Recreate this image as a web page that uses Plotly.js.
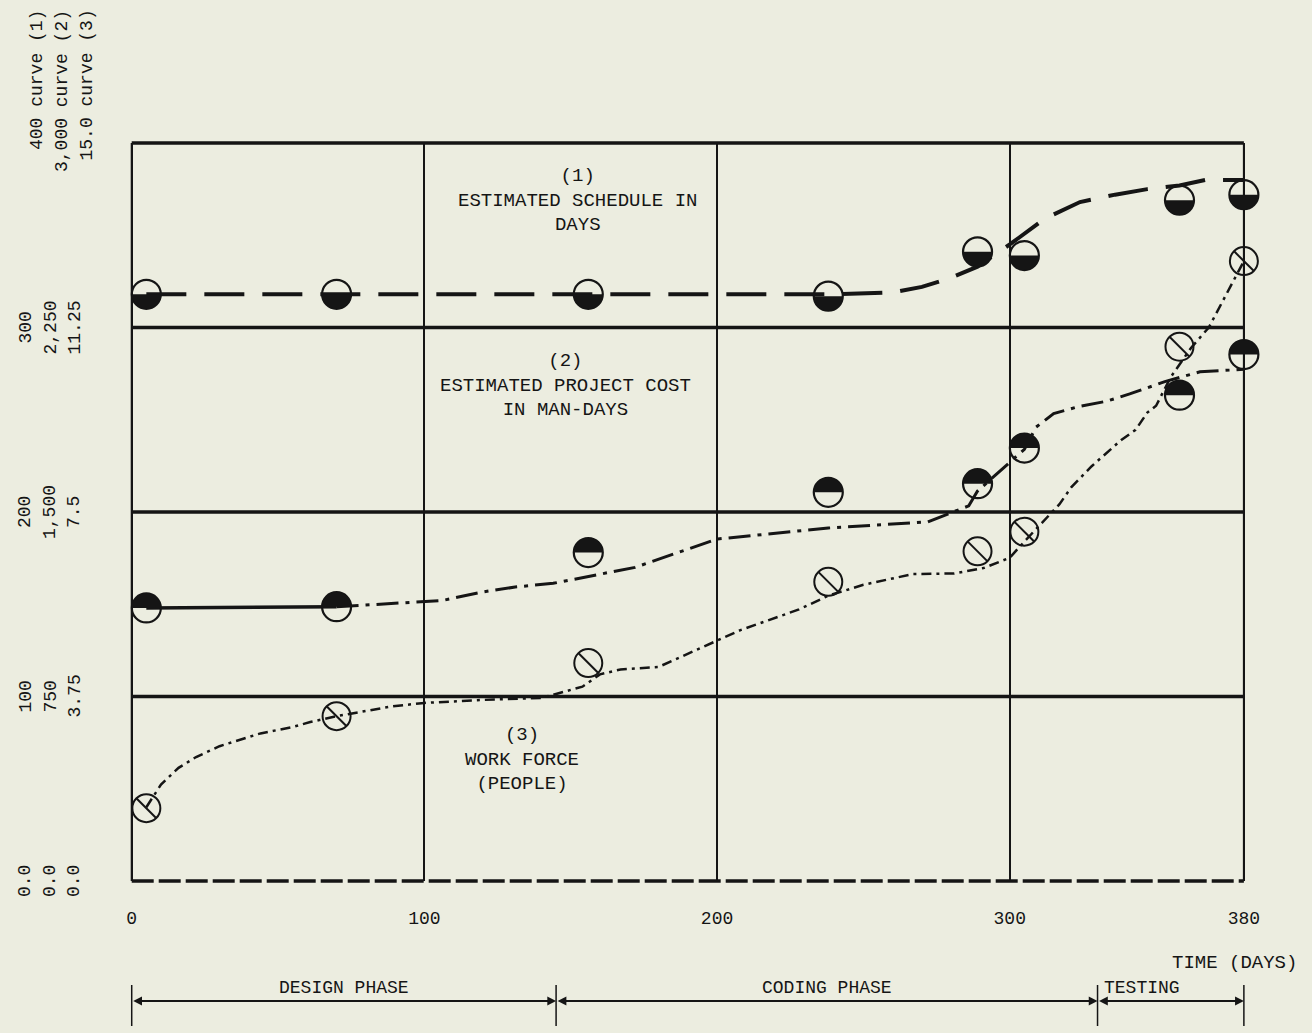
<!DOCTYPE html>
<html><head><meta charset="utf-8">
<script src="https://cdn.plot.ly/plotly-3.0.1.min.js"></script>
<style>html,body{margin:0;padding:0;background:#ECEDE0;}#chart{width:1312px;height:1033px;}</style>
</head><body><div id="chart"></div>
<script>
// ---- data ----
// review dates (days) shared by the three curves
const reviewDays = [5, 70, 156, 238, 289, 305, 358, 380];
// (1) estimated schedule in days
const scheduleEst = [318, 318, 318, 317, 341, 339, 369, 372];
// (2) estimated project cost in man-days
const costEst = [1110, 1115, 1335, 1580, 1615, 1760, 1975, 2140];
// (3) work force in people
const workForce = [1.48, 3.35, 4.43, 6.08, 6.7, 7.1, 10.86, 12.6];

// hand-drawn trend curves
const scheduleTrendDays = [5, 240, 260, 270, 280, 289, 300, 312, 324, 336, 347, 358, 367, 380];
const scheduleTrend     = [318, 318, 319, 322, 327, 333, 345, 359, 368, 372, 375, 377, 380, 380];

const costFlatDays = [5, 70];
const costFlat     = [1110, 1115];
const costTrendDays = [70, 106, 120, 131, 144, 157, 172, 200, 238, 272, 286, 289, 305, 309, 315, 324, 333, 341, 353, 365, 380];
const costTrend     = [1115, 1140, 1175, 1195, 1210, 1240, 1275, 1390, 1435, 1460, 1525, 1585, 1755, 1845, 1900, 1930, 1950, 1980, 2030, 2070, 2080];

const workTrendDays = [5, 10, 16, 22, 30, 36, 44, 55, 61, 70, 80, 89, 100, 120, 140, 148, 154, 160, 167, 180, 194, 208, 228, 238, 250, 267, 281, 291, 300, 305, 317, 321, 328, 333, 338, 343, 347, 350, 355, 362, 368, 376, 380];
const workTrend     = [1.5, 1.96, 2.3, 2.52, 2.74, 2.85, 3.0, 3.13, 3.23, 3.35, 3.46, 3.55, 3.62, 3.68, 3.72, 3.85, 3.95, 4.2, 4.3, 4.35, 4.73, 5.1, 5.52, 5.8, 6.02, 6.24, 6.25, 6.36, 6.57, 6.9, 7.66, 8.0, 8.43, 8.7, 8.96, 9.17, 9.52, 9.66, 10.24, 10.84, 11.25, 12.15, 12.6];

// axis scales and tick labels
const xTickVals = [0, 100, 200, 300, 380];
const xTickText = ['0', '100', '200', '300', '380'];
const gridVals1 = [100, 200, 300];
const tickVals1 = [0, 100, 200, 300];
const tickText1 = ['0.0', '100', '200', '300'];
const tickVals2 = [0, 750, 1500, 2250];
const tickText2 = ['0.0', '750', '1,500', '2,250'];
const tickVals3 = [0, 3.75, 7.5, 11.25];
const tickText3 = ['0.0', '3.75', '7.5', '11.25'];
const topLabels = ['400 curve (1)', '3,000 curve (2)', '15.0 curve (3)'];
const scaleMax = [400, 3000, 15];

// project phases
const phaseBounds = [0, 145, 330, 380];
const phaseNames = ['DESIGN PHASE', 'CODING PHASE', 'TESTING'];

// ---- styling ----
const ink = '#151515';
const bg = '#ECEDE0';
const mono = 'Liberation Mono, DejaVu Sans Mono, monospace';

const traces = [
  {x: scheduleTrendDays, y: scheduleTrend, yaxis: 'y', mode: 'lines',
   line: {color: ink, width: 4, dash: '40px,18px'}, hoverinfo: 'skip'},
  {x: costFlatDays, y: costFlat, yaxis: 'y2', mode: 'lines',
   line: {color: ink, width: 3.5}, hoverinfo: 'skip'},
  {x: costTrendDays, y: costTrend, yaxis: 'y2', mode: 'lines',
   line: {color: ink, width: 3, dash: '22px,7px,4px,7px'}, hoverinfo: 'skip'},
  {x: workTrendDays, y: workTrend, yaxis: 'y3', mode: 'lines',
   line: {color: ink, width: 2.5, dash: '10px,5px,3px,5px'}, hoverinfo: 'skip'},
  {x: reviewDays, y: scheduleEst, yaxis: 'y', mode: 'markers', cliponaxis: false,
   marker: {symbol: 'circle-open', size: 29, color: ink, line: {color: ink, width: 2.2}}},
  {x: reviewDays, y: costEst, yaxis: 'y2', mode: 'markers', cliponaxis: false,
   marker: {symbol: 'circle-open', size: 29, color: ink, line: {color: ink, width: 2.2}}},
  {x: reviewDays, y: workForce, yaxis: 'y3', mode: 'markers', cliponaxis: false,
   marker: {symbol: 'circle-open', size: 28, color: ink, line: {color: ink, width: 2}}},
  {x: reviewDays, y: workForce, yaxis: 'y3', mode: 'markers', cliponaxis: false,
   marker: {symbol: 'line-nw', size: 20, color: ink, line: {color: ink, width: 2}}}
];

// half-filled circle markers (filled half drawn as pixel-sized path anchored on the data point)
function halfDisc(x, y, yref, lower) {
  const r = 14.5, k = 8.0, s = lower ? -1 : 1;
  const path = 'M' + (-r) + ',0L' + r + ',0C' + r + ',' + (s * k) + ' ' + k + ',' + (s * r) + ' 0,' + (s * r) +
               'C' + (-k) + ',' + (s * r) + ' ' + (-r) + ',' + (s * k) + ' ' + (-r) + ',0Z';
  return {type: 'path', xref: 'x', yref: yref, xsizemode: 'pixel', ysizemode: 'pixel',
          xanchor: x, yanchor: y, path: path, fillcolor: ink, line: {width: 0}};
}

const shapes = [];
// frame
shapes.push({type: 'line', xref: 'x', yref: 'paper', x0: 0, x1: 380, y0: 1, y1: 1, line: {color: ink, width: 3.5}});
shapes.push({type: 'line', xref: 'x', yref: 'paper', x0: 0, x1: 380, y0: 0, y1: 0, line: {color: ink, width: 3.5, dash: '22px,5px'}});
shapes.push({type: 'line', xref: 'x', yref: 'paper', x0: 0, x1: 0, y0: 0, y1: 1, line: {color: ink, width: 2}});
shapes.push({type: 'line', xref: 'x', yref: 'paper', x0: 380, x1: 380, y0: 0, y1: 1, line: {color: ink, width: 2}});
gridVals1.forEach(v => shapes.push({type: 'line', xref: 'x', yref: 'y', x0: 0, x1: 380, y0: v, y1: v, layer: 'below',
  line: {color: ink, width: 3.5}}));
reviewDays.forEach((d, i) => {
  shapes.push(halfDisc(d, scheduleEst[i], 'y', true));
  shapes.push(halfDisc(d, costEst[i], 'y2', false));
});
// phase bar ticks
const phaseTickTop = -(985 - 881) / 738, phaseTickBot = -(1026 - 881) / 738, phaseLineY = -(1001 - 881) / 738;
phaseBounds.forEach(b => shapes.push({type: 'line', xref: 'x', yref: 'paper', x0: b, x1: b,
  y0: phaseTickTop, y1: phaseTickBot, line: {color: ink, width: 1.5}}));

const annotations = [];
// left scale labels (rotated)
const colShift = [-95, -70, -46];
const topShift = [-83, -58, -34];
[[tickVals1, tickText1, 'y'], [tickVals2, tickText2, 'y2'], [tickVals3, tickText3, 'y3']].forEach((c, ci) => {
  c[0].forEach((v, i) => annotations.push({xref: 'paper', x: 0, xanchor: 'center', xshift: colShift[ci],
    yref: c[2], y: v, yanchor: 'middle', text: c[1][i], textangle: -90, showarrow: false,
    font: {family: mono, size: 18, color: ink}}));
  annotations.push({xref: 'paper', x: 0, xanchor: 'center', xshift: topShift[ci],
    yref: 'paper', y: 1, yanchor: 'top', yshift: 135, text: topLabels[ci], textangle: -90, showarrow: false,
    font: {family: mono, size: 18, color: ink}});
});
// curve captions
const cap = {family: mono, size: 19, color: ink};
const capBase = {xref: 'paper', yref: 'paper', xanchor: 'center', yanchor: 'middle', showarrow: false, font: cap, align: 'center'};
annotations.push(Object.assign({}, capBase, {x: (577 - 120) / 1159, y: 1 - (200 - 143) / 738,
  text: '(1)<br>ESTIMATED SCHEDULE IN<br>DAYS'}));
annotations.push(Object.assign({}, capBase, {x: (565 - 120) / 1159, y: 1 - (385 - 143) / 738,
  text: '(2)<br>ESTIMATED PROJECT COST<br>IN MAN-DAYS'}));
annotations.push(Object.assign({}, capBase, {x: (522 - 120) / 1159, y: 1 - (759 - 143) / 738,
  text: '(3)<br>WORK FORCE<br>(PEOPLE)'}));
// axis title
annotations.push({xref: 'paper', yref: 'paper', x: 1, xanchor: 'right', xshift: 20, y: 0, yanchor: 'middle', yshift: -82,
  text: 'TIME (DAYS)', showarrow: false, font: {family: mono, size: 19, color: ink}});
// phases
const phaseLabelY = -(988 - 881) / 738;
phaseNames.forEach((n, i) => {
  const last = i === phaseNames.length - 1;
  annotations.push({xref: 'x', yref: 'paper', x: last ? phaseBounds[i] : (phaseBounds[i] + phaseBounds[i + 1]) / 2,
    xanchor: last ? 'left' : 'center', xshift: last ? 4 : 0, y: phaseLabelY, yanchor: 'middle',
    text: n, showarrow: false, font: {family: mono, size: 18, color: ink}});
  annotations.push({xref: 'x', yref: 'paper', x: phaseBounds[i + 1], y: phaseLineY,
    axref: 'x', ax: phaseBounds[i], ayref: 'pixel', ay: 0, text: '', showarrow: true,
    arrowhead: 2, startarrowhead: 2, arrowside: 'end+start', arrowsize: 0.8, startarrowsize: 0.8,
    arrowwidth: 2.2, arrowcolor: ink, standoff: 0, startstandoff: 0});
});

const layout = {
  width: 1312, height: 1033,
  margin: {l: 120, r: 33, t: 143, b: 152},
  paper_bgcolor: bg, plot_bgcolor: bg,
  showlegend: false,
  font: {family: mono, color: ink},
  xaxis: {range: [-4, 392], tickvals: xTickVals, ticktext: xTickText, showgrid: true, gridcolor: ink,
          gridwidth: 2, zeroline: false, showline: false, ticks: '', ticklabelstandoff: 24,
          tickfont: {family: mono, size: 18, color: ink}, fixedrange: true},
  yaxis: {range: [0, scaleMax[0]], showgrid: false, showticklabels: false, zeroline: false, showline: false, ticks: '', fixedrange: true},
  yaxis2: {range: [0, scaleMax[1]], overlaying: 'y', visible: false, fixedrange: true},
  yaxis3: {range: [0, scaleMax[2]], overlaying: 'y', visible: false, fixedrange: true},
  shapes: shapes,
  annotations: annotations
};

Plotly.newPlot('chart', traces, layout, {displayModeBar: false, staticPlot: true});
</script>
</body></html>
